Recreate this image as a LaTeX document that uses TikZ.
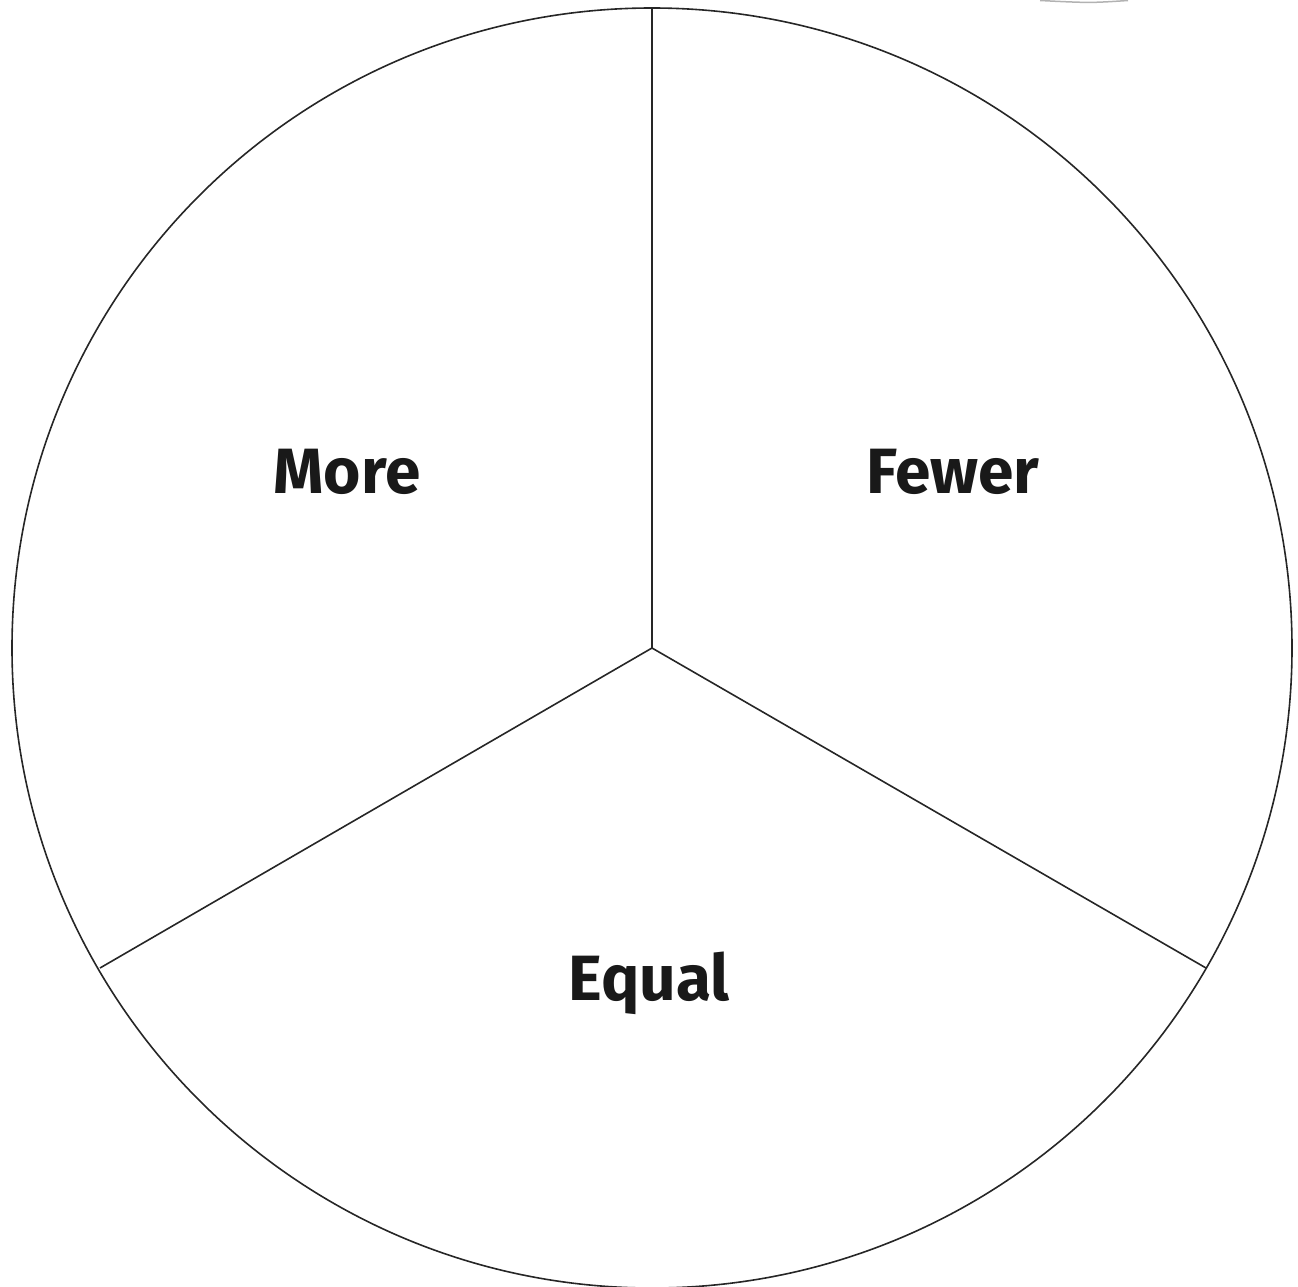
\documentclass[tikz,border=0pt]{standalone}
\usepackage{fontspec}
\setmainfont{Fira Sans}
\begin{document}
\begin{tikzpicture}[x=1pt,y=-1pt,
  rim/.style={draw=black!85,line width=1.6pt},
  label/.style={font=\fontsize{64}{70}\selectfont\bfseries,text=black!90,inner sep=0pt}]
\useasboundingbox (0,0) rectangle (1298,1287);
\coordinate (c) at (652,648);
\coordinate (top) at (652,9);
\coordinate (bl) at (100,968);
\coordinate (br) at (1206,968);
\draw[rim] (c) circle (640);
\draw[rim] (c) -- (top);
\draw[rim] (c) -- (bl);
\draw[rim] (c) -- (br);
\draw[black!30,line width=1.5pt] (1040,0.5) .. controls (1090,3) .. (1128,0.5);
\node[label] (more) at (347,472) {More};
\node[label] (fewer) at (953,472) {Fewer};
\node[label] (equal) at (649,983) {Equal};
\end{tikzpicture}
\end{document}
